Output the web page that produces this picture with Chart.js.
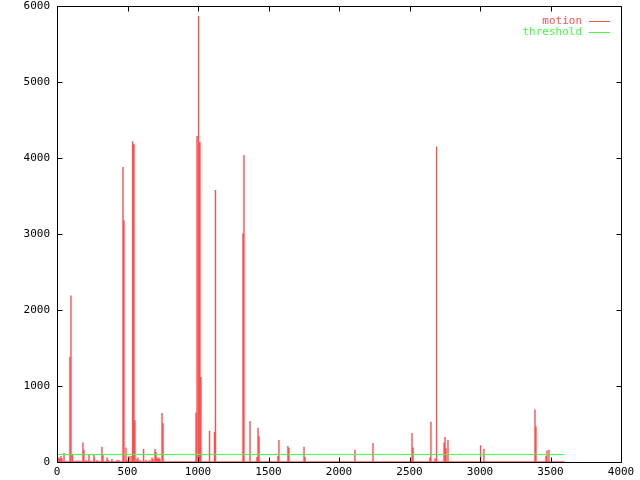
<!DOCTYPE html>
<html>
<head>
<meta charset="utf-8">
<script src="https://cdn.jsdelivr.net/npm/chart.js@4/dist/chart.umd.min.js"></script>
<style>
  html, body { margin: 0; padding: 0; background: #ffffff; }
  #wrap { width: 640px; height: 480px; }
</style>
</head>
<body>
<div id="wrap"><canvas id="c" width="640" height="480"></canvas></div>
<script>
// ---- data ----
const motionX = [0, 7, 14, 21, 28, 35, 50, 92, 99, 110, 128, 135, 149, 163, 184, 191, 206, 220, 227, 241,
  262, 266, 284, 298, 319, 326, 355, 362, 390, 426, 440, 468, 475, 489, 496, 511, 525, 532, 539, 546,
  553, 560, 567, 574, 589, 610, 617, 631, 645, 660, 674, 681, 695, 702, 709, 716, 723, 730, 745, 752,
  986, 993, 1000, 1007, 1014, 1021, 1082, 1117, 1124,
  1319, 1326, 1369, 1418, 1426, 1433, 1560, 1567, 1574, 1603, 1638, 1645, 1752, 1759,
  2113, 2241, 2255, 2262, 2518, 2525, 2645, 2652, 2681, 2688, 2695, 2745, 2752, 2759, 2773,
  3000, 3007, 3028, 3390, 3397, 3468, 3475, 3489, 3600];
const motionY = [0, 50, 60, 40, 80, 50, 120, 1385, 2190, 110, 5, 20, 20, 15, 255, 160, 25, 15, 100, 15,
  100, 50, 25, 15, 200, 90, 60, 30, 40, 25, 25, 3880, 3180, 190, 30, 80, 80, 110, 4220, 4180,
  550, 10, 40, 60, 25, 170, 15, 30, 15, 25, 60, 40, 170, 130, 60, 40, 60, 40, 645, 510,
  650, 4290, 4390, 5870, 4210, 1120, 410, 395, 3580,
  3010, 4040, 540, 65, 450, 340, 10, 80, 290, 10, 210, 185, 200, 65,
  160, 250, 10, 10, 380, 190, 60, 530, 50, 4150, 1610, 255, 330, 180, 290,
  60, 220, 175, 690, 470, 80, 150, 160, 0];
const thresholdX = [0, 3600];
const thresholdY = [100, 100];
const xTickValues = [0, 500, 1000, 1500, 2000, 2500, 3000, 3500, 4000];
const yTickValues = [0, 1000, 2000, 3000, 4000, 5000, 6000];
const seriesNames = ['motion', 'threshold'];
const seriesColors = ['#ff5050', '#40ff40'];

// impulses: each sample becomes a vertical stroke from 0 to its value
const motionPoints = [];
motionX.forEach((x, i) => {
  motionPoints.push({ x: x, y: 0 });
  motionPoints.push({ x: x, y: motionY[i] });
  motionPoints.push({ x: x, y: 0 });
});
const thresholdPoints = thresholdX.map((x, i) => ({ x: x, y: thresholdY[i] }));

const FONT = { family: '"DejaVu Sans Mono", "Liberation Mono", monospace', size: 11, lineHeight: 1 };

const framePlugin = {
  id: 'frame',
  afterDraw(chart) {
    const ctx = chart.ctx;
    const a = chart.chartArea;
    const xs = chart.scales.x, ys = chart.scales.y;
    ctx.save();
    ctx.strokeStyle = '#000000';
    ctx.lineWidth = 1;
    const L = Math.round(a.left) + 0.5, R = Math.round(a.right) + 0.5;
    const T = Math.round(a.top) + 0.5, B = Math.round(a.bottom) + 0.5;
    ctx.beginPath();
    ctx.rect(L, T, R - L, B - T);
    ctx.stroke();
    const tl = 5;
    ctx.beginPath();
    xTickValues.forEach(v => {
      const px = Math.round(xs.getPixelForValue(v)) + 0.5;
      ctx.moveTo(px, B); ctx.lineTo(px, B - tl);
      ctx.moveTo(px, T); ctx.lineTo(px, T + tl);
    });
    yTickValues.forEach(v => {
      const py = Math.round(ys.getPixelForValue(v)) + 0.5;
      ctx.moveTo(L, py); ctx.lineTo(L + tl, py);
      ctx.moveTo(R, py); ctx.lineTo(R - tl, py);
    });
    ctx.stroke();
    // gnuplot-style key, top right
    ctx.font = FONT.size + 'px ' + FONT.family;
    ctx.textAlign = 'right';
    ctx.textBaseline = 'middle';
    seriesNames.forEach((name, i) => {
      const y = 21 + i * 11;
      ctx.fillStyle = seriesColors[i];
      ctx.fillText(name, 582, y);
      ctx.strokeStyle = seriesColors[i];
      ctx.beginPath();
      ctx.moveTo(589, y + 0.5);
      ctx.lineTo(610, y + 0.5);
      ctx.stroke();
    });
    ctx.restore();
  }
};

new Chart(document.getElementById('c'), {
  type: 'scatter',
  data: {
    datasets: [
      {
        label: seriesNames[0],
        data: motionPoints,
        showLine: true,
        borderColor: seriesColors[0],
        backgroundColor: seriesColors[0],
        borderWidth: 1.4,
        pointRadius: 0,
        tension: 0,
        order: 2
      },
      {
        label: seriesNames[1],
        data: thresholdPoints,
        showLine: true,
        borderColor: seriesColors[1],
        backgroundColor: seriesColors[1],
        borderWidth: 1,
        pointRadius: 0,
        order: 1
      }
    ]
  },
  options: {
    responsive: false,
    animation: false,
    layout: { padding: { left: 0, right: 19, top: 6, bottom: 0 } },
    plugins: { legend: { display: false }, tooltip: { enabled: false } },
    scales: {
      x: {
        type: 'linear',
        min: 0, max: 4000,
        afterBuildTicks(scale) { scale.ticks = xTickValues.map(v => ({ value: v })); },
        afterFit(scale) { scale.height = 18; },
        ticks: { color: '#000000', font: FONT, padding: 0, maxRotation: 0, autoSkip: false,
                 callback: v => String(v) },
        grid: { display: false, drawTicks: true, tickLength: 5 },
        border: { display: false }
      },
      y: {
        type: 'linear',
        min: 0, max: 6000,
        afterBuildTicks(scale) { scale.ticks = yTickValues.map(v => ({ value: v })); },
        afterFit(scale) { scale.width = 57; },
        ticks: { color: '#000000', font: FONT, padding: 0, autoSkip: false,
                 callback: v => String(v) },
        grid: { display: false, drawTicks: true, tickLength: 7 },
        border: { display: false }
      }
    }
  },
  plugins: [framePlugin]
});
</script>
</body>
</html>
